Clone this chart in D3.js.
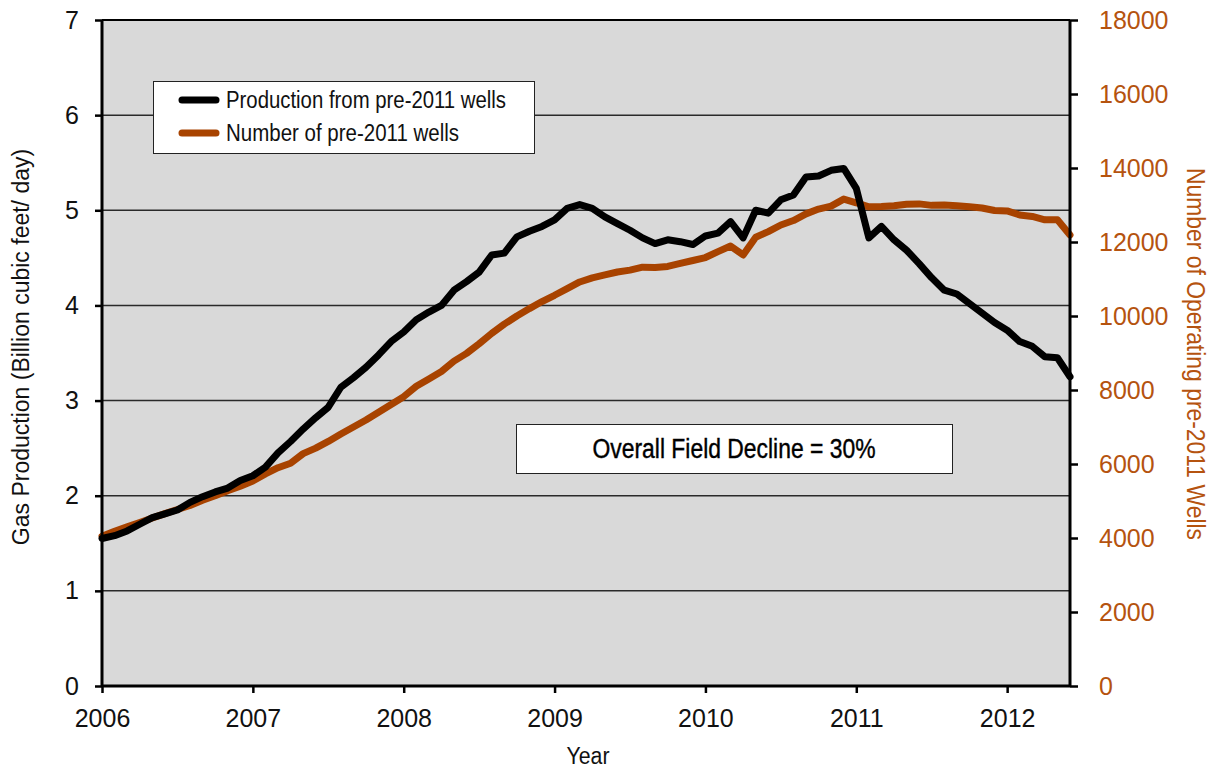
<!DOCTYPE html>
<html>
<head>
<meta charset="utf-8">
<script src="https://cdn.jsdelivr.net/npm/d3@7"></script>
<style>
  html, body { margin: 0; padding: 0; background: #fff; }
  svg { display: block; }
</style>
</head>
<body>
<svg id="chart" width="1219" height="769"></svg>
<script>
// ---- Data (monthly, Jan 2006 .. Jun 2012) ----
const startYear = 2006;
const production = [
  1.55, 1.58, 1.63, 1.70, 1.77, 1.81, 1.85, 1.93, 1.99, 2.04, 2.08, 2.16,
  2.21, 2.30, 2.45, 2.57, 2.70, 2.82, 2.93, 3.14, 3.24, 3.35, 3.48, 3.62,
  3.72, 3.85, 3.93, 4.00, 4.16, 4.25, 4.35, 4.53, 4.55, 4.72, 4.78, 4.83,
  4.90, 5.02, 5.06, 5.02, 4.93, 4.86, 4.79, 4.71, 4.65, 4.69, 4.67, 4.64,
  4.73, 4.76, 4.88, 4.71, 5.00, 4.97, 5.11, 5.16, 5.35, 5.36, 5.42, 5.44,
  5.23, 4.71, 4.83, 4.69, 4.58, 4.44, 4.29, 4.16, 4.12, 4.02, 3.92, 3.82,
  3.74, 3.62, 3.57, 3.46, 3.45, 3.25
];
const wells = [
  4050, 4180, 4300, 4420, 4540, 4660, 4770, 4880, 5020, 5140, 5280, 5400,
  5540, 5730, 5900, 6020, 6280, 6430, 6610, 6810, 7000, 7190, 7400, 7610,
  7820, 8100, 8300, 8500, 8780, 8990, 9250, 9530, 9780, 10000, 10200, 10390,
  10560, 10740, 10920, 11030, 11110, 11190, 11240, 11320, 11310, 11340, 11420, 11500,
  11580, 11740, 11890, 11650, 12130, 12280, 12460, 12580, 12760, 12890, 12970, 13160,
  13060, 12950, 12960, 12980, 13020, 13030, 12990, 13000, 12980, 12950, 12920, 12850,
  12840, 12730, 12690, 12600, 12600, 12190
];
const yearTicks = [2006, 2007, 2008, 2009, 2010, 2011, 2012];
const leftTicks = [0, 1, 2, 3, 4, 5, 6, 7];
const rightTicks = [0, 2000, 4000, 6000, 8000, 10000, 12000, 14000, 16000, 18000];
const seriesNames = ["Production from pre-2011 wells", "Number of pre-2011 wells"];
const annotationText = "Overall Field Decline = 30%";

// ---- Layout ----
const svg = d3.select("#chart");
const L = 102, R = 1070, T = 20, B = 686;
const black = "#000000";
const orange = "#a84300";
const orangeText = "#b5530f";
const sans = "'Liberation Sans', Arial, sans-serif";

const months = production.map((_, i) => startYear + i / 12);
const x = d3.scaleLinear().domain([startYear, months[months.length - 1]]).range([L, R]);
const yL = d3.scaleLinear().domain([0, 7]).range([B, T]);
const yR = d3.scaleLinear().domain([0, 18000]).range([B, T]);

// plot background
svg.append("rect").attr("x", L).attr("y", T).attr("width", R - L).attr("height", B - T)
  .attr("fill", "#d9d9d9");

// gridlines
svg.append("g").selectAll("line").data(leftTicks.filter(d => d > 0 && d < 7)).join("line")
  .attr("x1", L).attr("x2", R).attr("y1", d => yL(d)).attr("y2", d => yL(d))
  .attr("stroke", "#2a2a2a").attr("stroke-width", 1.5);
// top border
svg.append("line").attr("x1", L).attr("x2", R).attr("y1", T).attr("y2", T)
  .attr("stroke", "#000").attr("stroke-width", 2);

// lines
const lineProd = d3.line().x((d, i) => x(months[i])).y(d => yL(d));
const lineWells = d3.line().x((d, i) => x(months[i])).y(d => yR(d));
svg.append("path").datum(wells).attr("d", lineWells).attr("fill", "none")
  .attr("stroke", orange).attr("stroke-width", 7).attr("stroke-linejoin", "round").attr("stroke-linecap", "round");
svg.append("path").datum(production).attr("d", lineProd).attr("fill", "none")
  .attr("stroke", black).attr("stroke-width", 7).attr("stroke-linejoin", "round").attr("stroke-linecap", "round");

// axes
const axL = svg.append("g").attr("transform", `translate(${L},0)`)
  .call(d3.axisLeft(yL).tickValues(leftTicks).tickSize(7).tickPadding(16).tickFormat(d3.format("d")));
const axR = svg.append("g").attr("transform", `translate(${R},0)`)
  .call(d3.axisRight(yR).tickValues(rightTicks).tickSize(8).tickPadding(21).tickFormat(d3.format("d")));
const axB = svg.append("g").attr("transform", `translate(0,${B})`)
  .call(d3.axisBottom(x).tickValues(yearTicks).tickSize(7).tickPadding(16).tickFormat(d3.format("d")));

[axL, axR, axB].forEach(g => {
  g.select(".domain").attr("stroke", "#000").attr("stroke-width", 3);
  g.selectAll(".tick line").attr("stroke", "#000").attr("stroke-width", 2.5);
  g.selectAll("text").attr("font-family", sans).attr("font-size", 25).attr("fill", "#111");
});
axL.select(".domain").attr("d", `M0,${T}V${B}`);
axR.select(".domain").attr("d", `M0,${T}V${B}`);
axB.select(".domain").attr("d", `M${L},0H${R}`);
axR.selectAll("text").attr("fill", orangeText);

// helper: condensed text via textLength
function condensed(sel, len) {
  return sel.attr("textLength", len).attr("lengthAdjust", "spacingAndGlyphs");
}

// axis titles
svg.append("text").attr("transform", `translate(29,347) rotate(-90)`)
  .attr("text-anchor", "middle").attr("font-family", sans).attr("font-size", 23).attr("fill", "#111")
  .text("Gas Production (Billion cubic feet/ day)");
condensed(svg.append("text").attr("transform", `translate(1187,354) rotate(90)`)
  .attr("text-anchor", "middle").attr("font-family", sans).attr("font-size", 25).attr("fill", orangeText)
  .text("Number of Operating pre-2011 Wells"), 372);
condensed(svg.append("text").attr("x", 588).attr("y", 764)
  .attr("text-anchor", "middle").attr("font-family", sans).attr("font-size", 23).attr("fill", "#111")
  .text("Year"), 43);

// legend
const lg = svg.append("g");
lg.append("rect").attr("x", 153.5).attr("y", 81.5).attr("width", 381).attr("height", 72)
  .attr("fill", "#fff").attr("stroke", "#222").attr("stroke-width", 1);
const legendColors = [black, orange];
const legendLens = [280, 233];
seriesNames.forEach((name, i) => {
  const cy = 100 + i * 33;
  lg.append("line").attr("x1", 182).attr("x2", 216).attr("y1", cy).attr("y2", cy)
    .attr("stroke", legendColors[i]).attr("stroke-width", 7).attr("stroke-linecap", "round");
  condensed(lg.append("text").attr("x", 226).attr("y", cy + 8).attr("font-family", sans).attr("font-size", 23)
    .attr("fill", "#111").text(name), legendLens[i]);
});

// annotation box
svg.append("rect").attr("x", 516.5).attr("y", 424.5).attr("width", 436).attr("height", 49)
  .attr("fill", "#fff").attr("stroke", "#222").attr("stroke-width", 1);
condensed(svg.append("text").attr("x", 734).attr("y", 458).attr("text-anchor", "middle")
  .attr("font-family", sans).attr("font-size", 27).attr("fill", "#000")
  .attr("stroke", "#000").attr("stroke-width", 0.4).text(annotationText), 283);
</script>
</body>
</html>
